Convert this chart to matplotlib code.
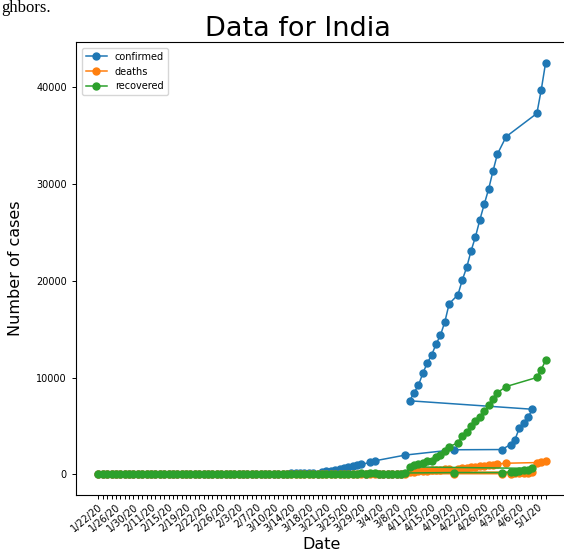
import pandas as pd
import matplotlib
matplotlib.use("Agg")
import matplotlib.pyplot as plt

# daily dates as "m/d/20" strings, in time order
day_labels = [f"{d.month}/{d.day}/20" for d in pd.date_range("2020-01-22", "2020-05-03")]

confirmed = ([0] * 8 + [1, 1, 1, 2, 3] + [3] * 27 +
             [5, 5, 28, 30, 31, 34, 39, 43, 56, 62, 73, 82, 102, 113, 119, 142, 156, 194,
              244, 330, 396, 499, 536, 657, 727, 887, 987, 1024, 1251, 1397,
              1998, 2543, 2567, 3082, 3588, 4778, 5311, 5916, 6725, 7598, 8446, 9205,
              10453, 11487, 12322, 13430, 14352, 15722, 17615, 18539, 20080, 21370,
              23077, 24530, 26283, 27890, 29451, 31324, 33062, 34863,
              37257, 39699, 42505])

deaths = ([0] * 49 +
          [1, 1, 2, 2, 2, 2, 3, 3, 4, 5, 4, 7, 10, 10, 12, 20, 20, 24, 27, 32, 35,
           58, 72, 72, 86, 99, 136, 150, 178, 226, 246, 288, 331, 358, 393, 405, 448,
           486, 521, 559, 592, 645, 681, 721, 780, 825, 881, 939, 1008, 1079, 1154,
           1223, 1323, 1391])

recovered = ([0] * 23 + [3] * 25 +
             [4, 4, 4, 4, 4, 13, 13, 14, 14, 15, 20, 23, 27, 27, 40, 43, 45, 73, 84, 95,
              102, 123,
              148, 191, 192, 229, 229, 375, 421, 506, 620, 774, 969, 1080, 1181, 1359,
              1432, 1768, 2041, 2463, 2854, 3273, 3975, 4370, 5012, 5498, 5939, 6523,
              7137, 7747, 8437, 9068,
              10007, 10819, 11775])

# the date axis is ordered as text, so dates land out of calendar order
categories = sorted(day_labels)
xpos = [categories.index(d) for d in day_labels]

fig = plt.figure(figsize=(5.64, 5.6), dpi=100)
ax = fig.add_axes([76 / 564, 65 / 560, 492 / 564, 453 / 560])

for name, values in [("confirmed", confirmed), ("deaths", deaths), ("recovered", recovered)]:
    ax.plot(xpos, values, "o-", label=name, markersize=5, linewidth=1.1)

ax.set_xticks(range(len(categories)))
ax.set_xticklabels([c if i % 4 == 0 else "" for i, c in enumerate(categories)],
                   rotation=40, ha="right", rotation_mode="anchor", fontsize=7)
ax.tick_params(axis="x", length=3, width=0.7, pad=2)
ax.tick_params(axis="y", labelsize=7, length=3, width=0.7)
ax.set_xlim(-5.1, len(categories) - 1 + 5.1)
ax.set_ylim(-2125, 44630)

ax.set_xlabel("Date", fontsize=11.5, labelpad=2)
ax.set_ylabel("Number of cases", fontsize=11.5)
ax.yaxis.set_label_coords(-0.108, 0.5)
ax.legend(loc="upper left", fontsize=7, handlelength=2.2, borderaxespad=0.6)

fig.suptitle("Data for India", x=298 / 564, y=524 / 560, va="baseline", fontsize=19.5)
fig.text(0.002, 548 / 560, "ghbors.", family="Liberation Serif", fontsize=12,
         va="baseline", ha="left")

fig.savefig("out.png", dpi=100)
